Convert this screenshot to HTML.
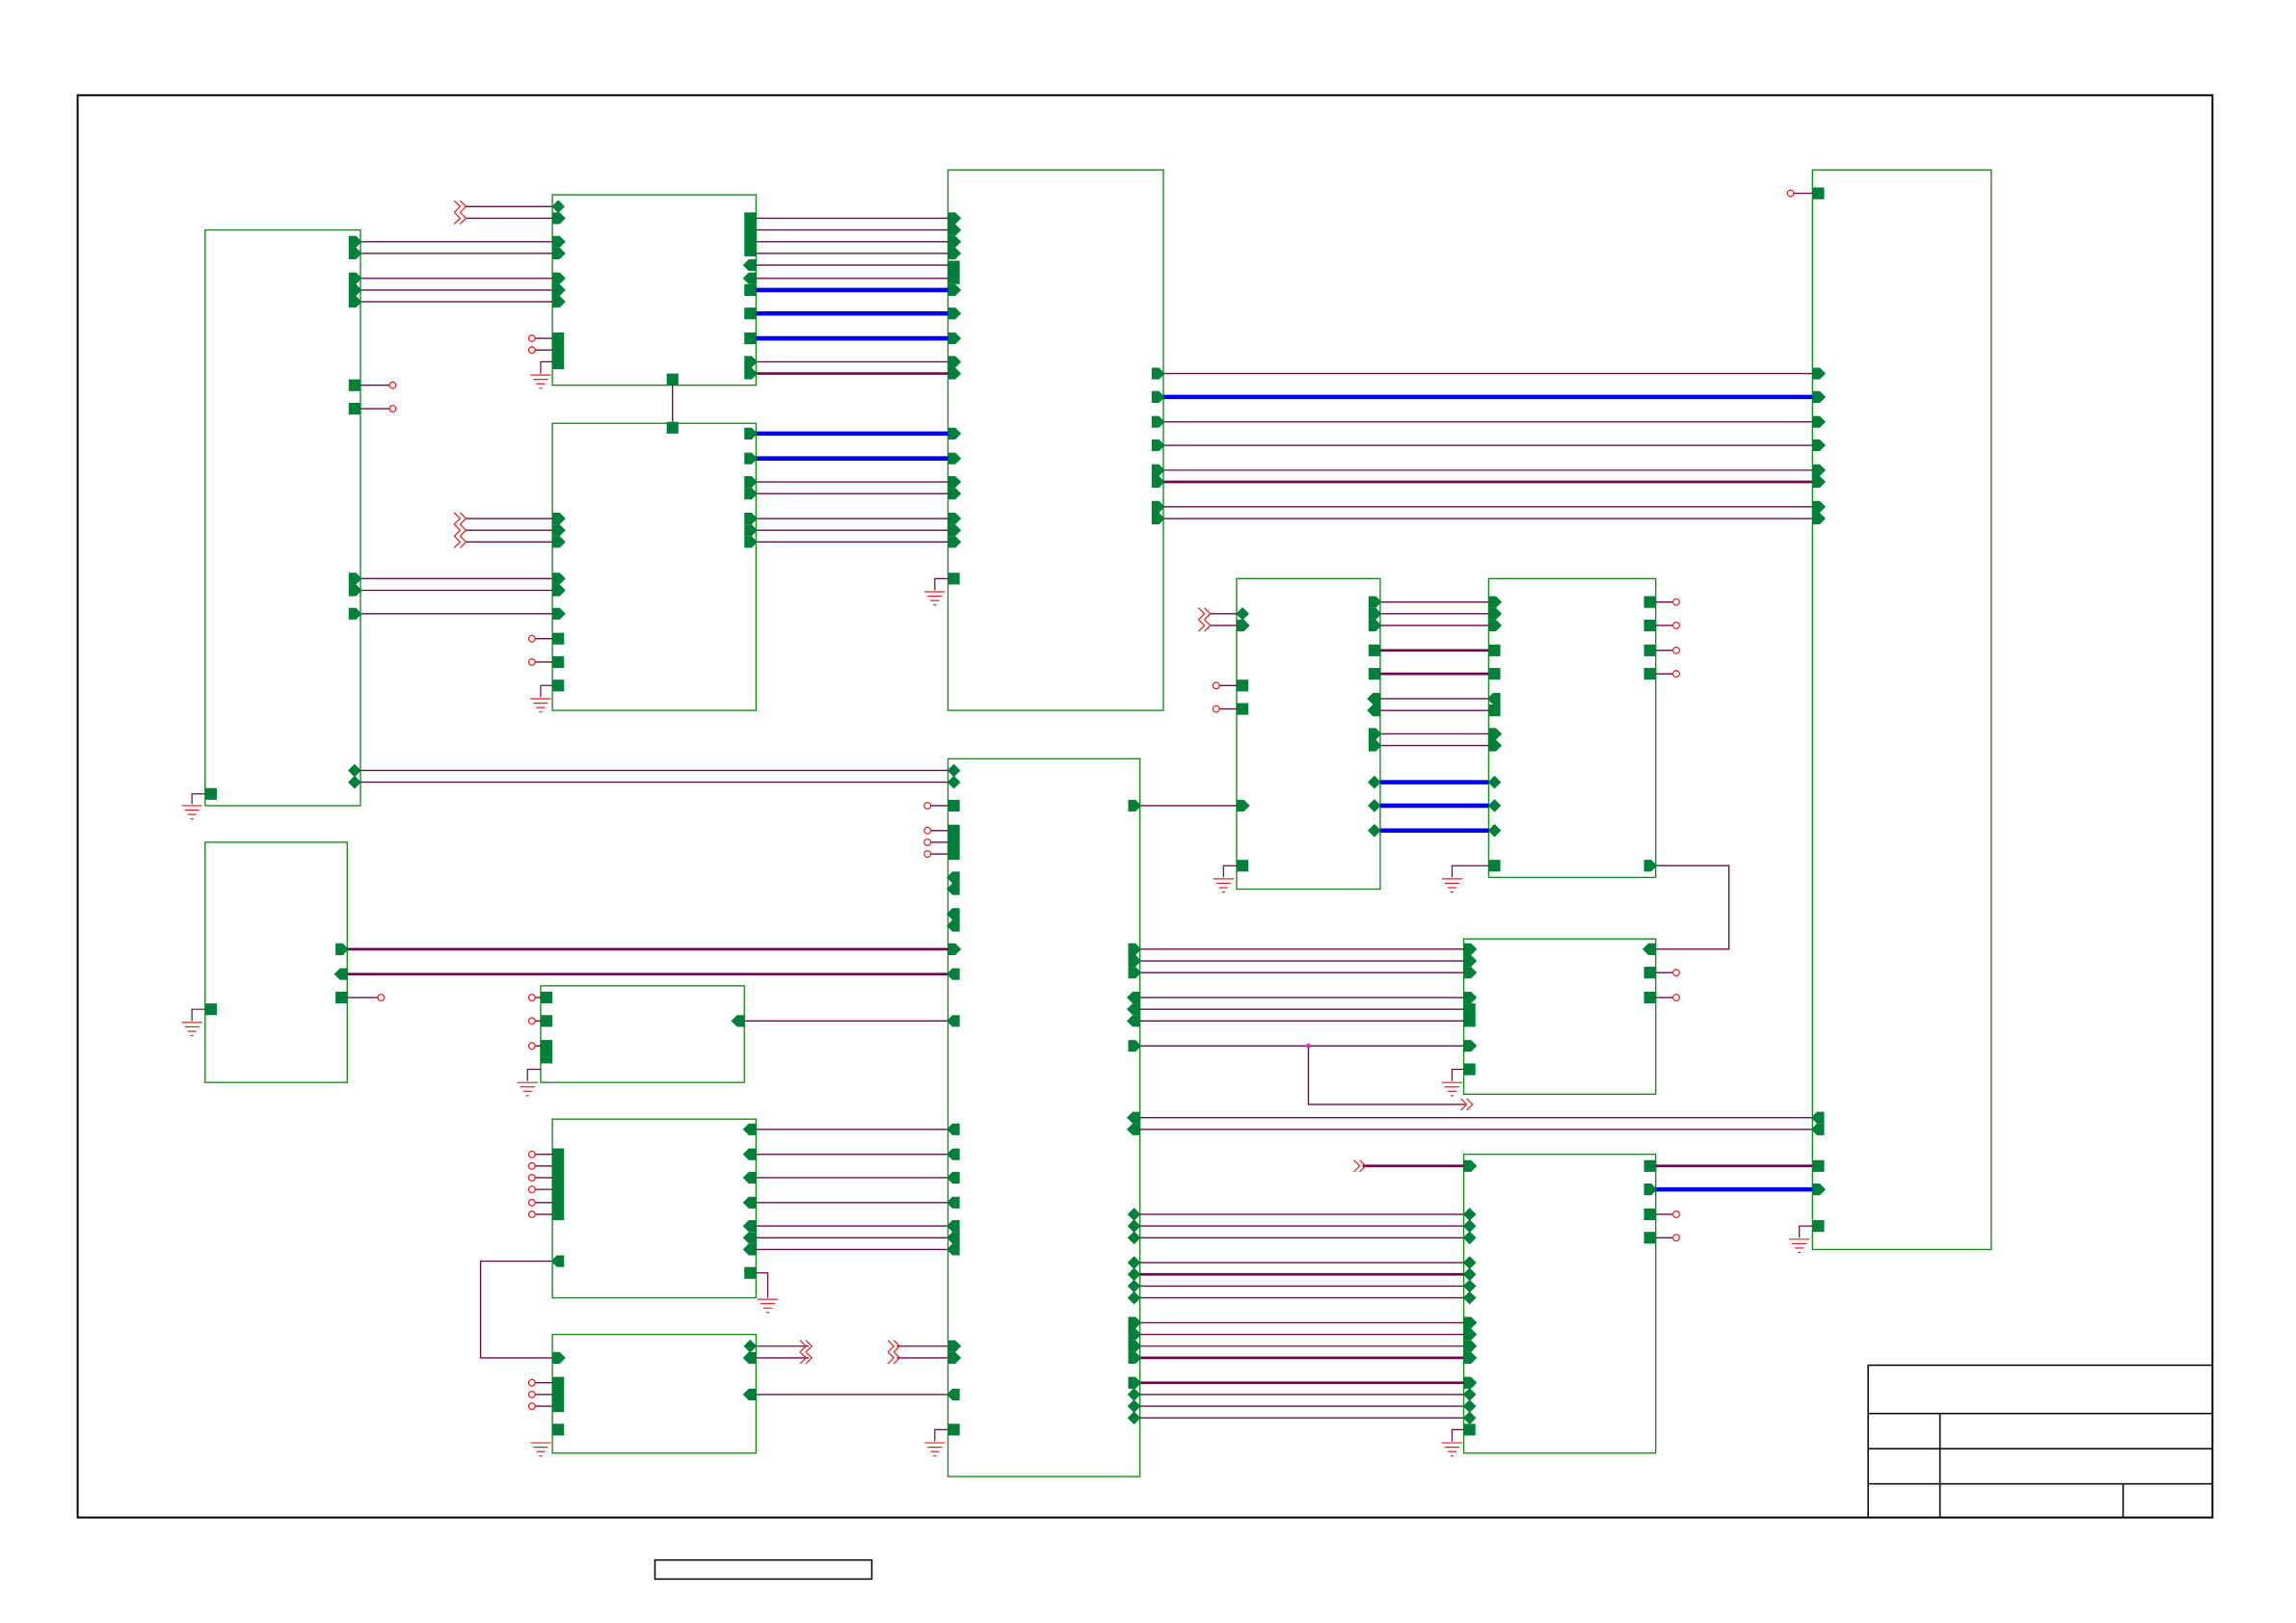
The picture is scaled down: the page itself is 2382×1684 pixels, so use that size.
<!DOCTYPE html>
<html><head><meta charset="utf-8"><style>html,body{margin:0;padding:0;background:#fff}svg{display:block}</style></head>
<body>
<svg width="2382" height="1684" viewBox="0 0 1567 1108" preserveAspectRatio="none" xmlns="http://www.w3.org/2000/svg">
<defs>
<rect id="sq" x="-4" y="-4" width="8" height="8" fill="#00803a"/>
<polygon id="ar" points="-4,-4 1,-4 5,0 1,4 -4,4" fill="#00803a"/>
<polygon id="al" points="4,-4 -1,-4 -5,0 -1,4 4,4" fill="#00803a"/>
<polygon id="dm" points="0,-4.5 4.5,0 0,4.5 -4.5,0" fill="#00803a"/>
<g id="cr"><circle cx="0" cy="0" r="2.2" fill="#fff" stroke="#e02020" stroke-width="0.8"/></g>
<g id="ch" fill="none" stroke="#e02020" stroke-width="0.8"><polyline points="-6,-4 -2,0 -6,4"/><polyline points="-2,-4 2,0 -2,4"/></g>
<g id="gnd" stroke="#e02020" stroke-width="0.8"><line x1="-7" y1="0" x2="7" y2="0"/><line x1="-5" y1="3" x2="5" y2="3"/><line x1="-3" y1="6" x2="3" y2="6"/><line x1="-1" y1="9" x2="1" y2="9"/></g>
</defs>
<rect x="53" y="65" width="1457" height="971" fill="none" stroke="#000" stroke-width="1.3"/>
<g stroke="#000" stroke-width="1" fill="none">
<path d="M1275 1036V932H1510M1275 965H1510M1275 989H1510M1275 1013H1510M1324 965V1036M1449 1013V1036"/>
<rect x="447" y="1065" width="148" height="13"/>
</g>
<g fill="none" stroke="#1a8a1a" stroke-width="0.9">
<rect x="140" y="157" width="106" height="393"/>
<rect x="377" y="133" width="139" height="130"/>
<rect x="377" y="289" width="139" height="196"/>
<rect x="647" y="116" width="147" height="369"/>
<rect x="1237" y="116" width="122" height="737"/>
<rect x="844" y="395" width="98" height="212"/>
<rect x="1016" y="395" width="114" height="204"/>
<rect x="647" y="518" width="131" height="490"/>
<rect x="140" y="575" width="97" height="164"/>
<rect x="369" y="673" width="139" height="66"/>
<rect x="377" y="764" width="139" height="122"/>
<rect x="377" y="911" width="139" height="81"/>
<rect x="999" y="641" width="131" height="106"/>
<rect x="999" y="788" width="131" height="204"/>
</g>
<path fill="none" stroke="#6a0a4c" stroke-width="0.9" d="
M246 165H377M246 173H377M246 190H377M246 198H377M246 206H377
M318 141H377M318 149H377
M516 149H647M516 157H647M516 165H647M516 173H647M516 181H647M516 190H647M516 247H647M516 255H647
M516 329H647M516 337H647M516 354H647M516 362H647M516 370H647
M318 354H377M318 362H377M318 370H377
M246 395H377M246 403H377M246 419H377
M794 255H1237M794 288H1237M794 304H1237M794 321H1237M794 329H1237M794 346H1237M794 354H1237
M246 526H647M246 534H647
M508 697H647
M516 771H647M516 788H647M516 804H647M516 821H647M516 837H647M516 845H647M516 853H647
M381 861H328V927H381
M516 919H552M516 927H552M612 919H647M612 927H647M516 952H647
M778 550H844
M778 648H999M778 656H999M778 664H999M778 681H999M778 689H999M778 697H999M778 714H999
M893 714V754H1000
M778 763H1237M778 771H1237
M778 829H999M778 837H999M778 845H999M778 862H999M778 870H999M778 878H999M778 886H999M778 903H999M778 911H999M778 919H999M778 927H999M778 944H999M778 952H999M778 960H999M778 968H999
M930 796H999M1130 796H1237
M942 411H1016M942 419H1016M942 427H1016M942 444H1016M942 460H1016M942 477H1016M942 485H1016M942 501H1016M942 509H1016
M826 419H844M826 427H844
M1130 591H1180V648H1130
M459 259V292
M246 263H266M246 279H266M1224 132H1237M237 681H258
M365 231H377M365 239H377M365 436H377M365 452H377M365 681H369M365 697H369M365 714H369
M365 788H377M365 796H377M365 804H377M365 812H377M365 821H377M365 829H377M365 944H377M365 952H377M365 960H377
M635 550H647M635 567H647M635 575H647M635 583H647
M832 468H844M832 484H844M1130 411H1142M1130 427H1142M1130 444H1142M1130 460H1142
M1130 664H1142M1130 681H1142M1130 829H1142M1130 845H1142
"/>
<path fill="none" stroke="#6a0a4c" stroke-width="1.8" d="M237 648H647M237 665H647M942 444H1016M942 460H1016M794 329H1237M516 255H647M778 870H999M778 927H999M778 944H999M1130 796H1237M930 796H999"/>
<path fill="none" stroke="#6a0a4c" stroke-width="0.8" d="M369 255V247H377M369 476V468H377M360 738V730H369M131 549V542H140M131 697V689H140M638 403V395H647M638 984V976H647M835 599V591H844M991 599V591H1016M991 738V730H999M1228 845V837H1237M991 984V976H999M524 886V869H516"/>
<path fill="none" stroke="#0000ee" stroke-width="3" d="M516 198H647M516 214H647M516 231H647M516 296H647M516 313H647M794 271H1237M942 534H1016M942 550H1016M942 567H1016M1130 812H1237"/>
<g>
<use href="#gnd" x="369" y="256"/><use href="#gnd" x="369" y="477"/><use href="#gnd" x="360" y="739"/>
<use href="#gnd" x="131" y="550"/><use href="#gnd" x="131" y="698"/><use href="#gnd" x="638" y="404"/>
<use href="#gnd" x="638" y="985"/><use href="#gnd" x="835" y="600"/><use href="#gnd" x="991" y="600"/>
<use href="#gnd" x="991" y="739"/><use href="#gnd" x="1228" y="846"/><use href="#gnd" x="991" y="985"/>
<use href="#gnd" x="524" y="887"/><use href="#gnd" x="369" y="985"/>
</g>
<g>
<use href="#cr" x="268" y="263"/><use href="#cr" x="268" y="279"/><use href="#cr" x="1222" y="132"/><use href="#cr" x="260" y="681"/>
<use href="#cr" x="363" y="231"/><use href="#cr" x="363" y="239"/><use href="#cr" x="363" y="436"/><use href="#cr" x="363" y="452"/>
<use href="#cr" x="363" y="681"/><use href="#cr" x="363" y="697"/><use href="#cr" x="363" y="714"/>
<use href="#cr" x="363" y="788"/><use href="#cr" x="363" y="796"/><use href="#cr" x="363" y="804"/><use href="#cr" x="363" y="812"/><use href="#cr" x="363" y="821"/><use href="#cr" x="363" y="829"/>
<use href="#cr" x="363" y="944"/><use href="#cr" x="363" y="952"/><use href="#cr" x="363" y="960"/>
<use href="#cr" x="633" y="550"/><use href="#cr" x="633" y="567"/><use href="#cr" x="633" y="575"/><use href="#cr" x="633" y="583"/>
<use href="#cr" x="830" y="468"/><use href="#cr" x="830" y="484"/>
<use href="#cr" x="1144" y="411"/><use href="#cr" x="1144" y="427"/><use href="#cr" x="1144" y="444"/><use href="#cr" x="1144" y="460"/>
<use href="#cr" x="1144" y="664"/><use href="#cr" x="1144" y="681"/><use href="#cr" x="1144" y="829"/><use href="#cr" x="1144" y="845"/>
</g>
<g>
<use href="#ch" x="316" y="141"/><use href="#ch" x="316" y="149"/>
<use href="#ch" x="316" y="354"/><use href="#ch" x="316" y="362"/><use href="#ch" x="316" y="370"/>
<use href="#ch" x="824" y="419"/><use href="#ch" x="824" y="427"/>
<use href="#ch" x="1003" y="754"/><use href="#ch" x="930" y="796"/>
<use href="#ch" x="552" y="919"/><use href="#ch" x="552" y="927"/>
<use href="#ch" x="612" y="919"/><use href="#ch" x="612" y="927"/>
</g>
<circle cx="893" cy="714" r="1.6" fill="#e020e0"/>
<g>
<use href="#ar" x="242" y="165"/><use href="#ar" x="242" y="173"/><use href="#ar" x="242" y="190"/><use href="#ar" x="242" y="198"/><use href="#ar" x="242" y="206"/>
<use href="#sq" x="242" y="263"/><use href="#sq" x="242" y="279"/>
<use href="#ar" x="242" y="395"/><use href="#ar" x="242" y="403"/><use href="#ar" x="242" y="419"/>
<use href="#dm" x="242" y="526"/><use href="#dm" x="242" y="534"/><use href="#sq" x="144" y="542"/>
<use href="#dm" x="381" y="141"/><use href="#ar" x="381" y="149"/><use href="#ar" x="381" y="165"/><use href="#ar" x="381" y="173"/><use href="#ar" x="381" y="190"/><use href="#ar" x="381" y="198"/><use href="#ar" x="381" y="206"/>
<rect x="377" y="227" width="8" height="25" fill="#00803a"/>
<rect x="508" y="145" width="8" height="30" fill="#00803a"/>
<use href="#al" x="512" y="181"/><use href="#al" x="512" y="190"/><use href="#sq" x="512" y="198"/><use href="#sq" x="512" y="214"/><use href="#sq" x="512" y="231"/><use href="#ar" x="512" y="247"/><use href="#ar" x="512" y="255"/>
<use href="#sq" x="459" y="259"/><use href="#sq" x="459" y="292"/>
<use href="#ar" x="512" y="296"/><use href="#ar" x="512" y="313"/><use href="#ar" x="512" y="329"/><use href="#ar" x="512" y="337"/><use href="#ar" x="512" y="354"/><use href="#ar" x="512" y="362"/><use href="#ar" x="512" y="370"/>
<use href="#ar" x="381" y="354"/><use href="#ar" x="381" y="362"/><use href="#ar" x="381" y="370"/><use href="#ar" x="381" y="395"/><use href="#ar" x="381" y="403"/><use href="#ar" x="381" y="419"/>
<use href="#sq" x="381" y="436"/><use href="#sq" x="381" y="452"/><use href="#sq" x="381" y="468"/>
<use href="#ar" x="651" y="149"/><use href="#ar" x="651" y="157"/><use href="#ar" x="651" y="165"/><use href="#ar" x="651" y="173"/><rect x="647" y="178" width="8" height="16" fill="#00803a"/>
<use href="#ar" x="651" y="198"/><use href="#ar" x="651" y="214"/><use href="#ar" x="651" y="231"/><use href="#ar" x="651" y="247"/><use href="#ar" x="651" y="255"/>
<use href="#ar" x="651" y="296"/><use href="#ar" x="651" y="313"/><use href="#ar" x="651" y="329"/><use href="#ar" x="651" y="337"/><use href="#ar" x="651" y="354"/><use href="#ar" x="651" y="362"/><use href="#ar" x="651" y="370"/>
<use href="#sq" x="651" y="395"/>
<use href="#ar" x="790" y="255"/><use href="#ar" x="790" y="271"/><use href="#ar" x="790" y="288"/><use href="#ar" x="790" y="304"/><use href="#ar" x="790" y="321"/><use href="#ar" x="790" y="329"/><use href="#ar" x="790" y="346"/><use href="#ar" x="790" y="354"/>
<use href="#sq" x="1241" y="132"/>
<use href="#ar" x="1241" y="255"/><use href="#ar" x="1241" y="271"/><use href="#ar" x="1241" y="288"/><use href="#ar" x="1241" y="304"/><use href="#ar" x="1241" y="321"/><use href="#ar" x="1241" y="329"/><use href="#ar" x="1241" y="346"/><use href="#ar" x="1241" y="354"/>
<use href="#al" x="1241" y="763"/><use href="#al" x="1241" y="771"/><use href="#sq" x="1241" y="796"/><use href="#ar" x="1241" y="812"/><use href="#sq" x="1241" y="837"/>
<use href="#dm" x="848" y="419"/><use href="#ar" x="848" y="427"/><use href="#sq" x="848" y="468"/><use href="#sq" x="848" y="484"/><use href="#ar" x="848" y="550"/><use href="#sq" x="848" y="591"/>
<use href="#ar" x="938" y="411"/><use href="#ar" x="938" y="419"/><use href="#ar" x="938" y="427"/><use href="#sq" x="938" y="444"/><use href="#sq" x="938" y="460"/><use href="#al" x="938" y="477"/><use href="#al" x="938" y="485"/><use href="#ar" x="938" y="501"/><use href="#ar" x="938" y="509"/>
<use href="#dm" x="938" y="534"/><use href="#dm" x="938" y="550"/><use href="#dm" x="938" y="567"/>
<use href="#ar" x="1020" y="411"/><use href="#ar" x="1020" y="419"/><use href="#ar" x="1020" y="427"/><use href="#sq" x="1020" y="444"/><use href="#sq" x="1020" y="460"/><use href="#al" x="1020" y="477"/><use href="#sq" x="1020" y="485"/><use href="#ar" x="1020" y="501"/><use href="#ar" x="1020" y="509"/>
<use href="#dm" x="1020" y="534"/><use href="#dm" x="1020" y="550"/><use href="#dm" x="1020" y="567"/><use href="#sq" x="1020" y="591"/>
<use href="#sq" x="1126" y="411"/><use href="#sq" x="1126" y="427"/><use href="#sq" x="1126" y="444"/><use href="#sq" x="1126" y="460"/><use href="#ar" x="1126" y="591"/>
<use href="#dm" x="651" y="526"/><use href="#dm" x="651" y="534"/><use href="#sq" x="651" y="550"/><rect x="647" y="563" width="8" height="24" fill="#00803a"/>
<use href="#al" x="651" y="599"/><use href="#al" x="651" y="607"/><use href="#al" x="651" y="624"/><use href="#al" x="651" y="632"/>
<use href="#ar" x="651" y="648"/><use href="#al" x="651" y="665"/><use href="#al" x="651" y="697"/>
<use href="#al" x="651" y="771"/><use href="#al" x="651" y="788"/><use href="#al" x="651" y="804"/><use href="#al" x="651" y="821"/><use href="#al" x="651" y="837"/><use href="#al" x="651" y="845"/><use href="#al" x="651" y="853"/>
<use href="#ar" x="651" y="919"/><use href="#ar" x="651" y="927"/><use href="#al" x="651" y="952"/><use href="#sq" x="651" y="976"/>
<use href="#ar" x="774" y="550"/><use href="#ar" x="774" y="648"/><use href="#ar" x="774" y="656"/><use href="#ar" x="774" y="664"/><use href="#al" x="774" y="681"/><use href="#al" x="774" y="689"/><use href="#al" x="774" y="697"/><use href="#ar" x="774" y="714"/>
<use href="#al" x="774" y="763"/><use href="#al" x="774" y="771"/>
<use href="#dm" x="774" y="829"/><use href="#dm" x="774" y="837"/><use href="#dm" x="774" y="845"/><use href="#dm" x="774" y="862"/><use href="#dm" x="774" y="870"/><use href="#dm" x="774" y="878"/><use href="#dm" x="774" y="886"/>
<use href="#ar" x="774" y="903"/><use href="#ar" x="774" y="911"/><use href="#ar" x="774" y="919"/><use href="#ar" x="774" y="927"/><use href="#ar" x="774" y="944"/><use href="#dm" x="774" y="952"/><use href="#dm" x="774" y="960"/><use href="#dm" x="774" y="968"/>
<use href="#ar" x="233" y="648"/><use href="#al" x="233" y="665"/><use href="#sq" x="233" y="681"/><use href="#sq" x="144" y="689"/>
<use href="#sq" x="373" y="681"/><use href="#sq" x="373" y="697"/><rect x="369" y="710" width="8" height="16" fill="#00803a"/><use href="#al" x="504" y="697"/>
<rect x="377" y="784" width="8" height="49" fill="#00803a"/><use href="#al" x="381" y="861"/>
<use href="#al" x="512" y="771"/><use href="#al" x="512" y="788"/><use href="#al" x="512" y="804"/><use href="#al" x="512" y="821"/><use href="#al" x="512" y="837"/><use href="#al" x="512" y="845"/><use href="#al" x="512" y="853"/><use href="#sq" x="512" y="869"/>
<use href="#ar" x="381" y="927"/><rect x="377" y="940" width="8" height="24" fill="#00803a"/><use href="#sq" x="381" y="976"/>
<use href="#dm" x="512" y="919"/><use href="#al" x="512" y="927"/><use href="#al" x="512" y="952"/>
<use href="#ar" x="1003" y="648"/><use href="#ar" x="1003" y="656"/><use href="#ar" x="1003" y="664"/><use href="#ar" x="1003" y="681"/><rect x="999" y="685" width="8" height="16" fill="#00803a"/><use href="#ar" x="1003" y="714"/><use href="#sq" x="1003" y="730"/>
<use href="#al" x="1126" y="648"/><use href="#sq" x="1126" y="664"/><use href="#sq" x="1126" y="681"/>
<use href="#ar" x="1003" y="796"/>
<use href="#dm" x="1003" y="829"/><use href="#dm" x="1003" y="837"/><use href="#dm" x="1003" y="845"/><use href="#dm" x="1003" y="862"/><use href="#dm" x="1003" y="870"/><use href="#dm" x="1003" y="878"/><use href="#dm" x="1003" y="886"/>
<use href="#ar" x="1003" y="903"/><use href="#ar" x="1003" y="911"/><use href="#ar" x="1003" y="919"/><use href="#ar" x="1003" y="927"/><use href="#ar" x="1003" y="944"/><use href="#dm" x="1003" y="952"/><use href="#dm" x="1003" y="960"/><use href="#dm" x="1003" y="968"/><use href="#sq" x="1003" y="976"/>
<use href="#sq" x="1126" y="796"/><use href="#ar" x="1126" y="812"/><use href="#sq" x="1126" y="829"/><use href="#sq" x="1126" y="845"/>
</g>
</svg>
</body></html>
